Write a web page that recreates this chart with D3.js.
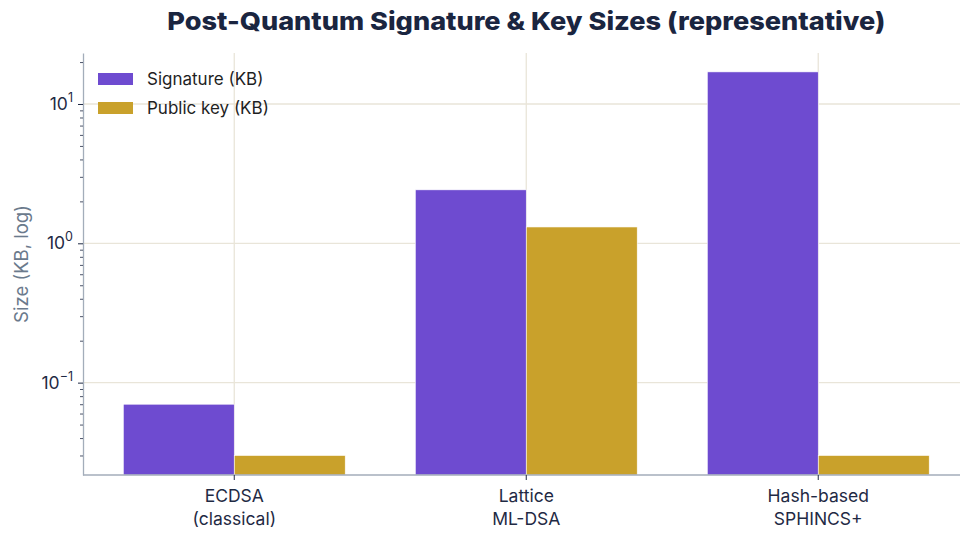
<!DOCTYPE html>
<html>
<head>
<meta charset="utf-8">
<script src="https://cdn.jsdelivr.net/npm/d3@7"></script>
<style>
  html, body { margin: 0; padding: 0; background: #ffffff; }
  svg { display: block; font-family: Inter, "Open Sans", sans-serif; }
</style>
</head>
<body>
<svg id="chart" width="960" height="534"></svg>
<script>
// Representative sizes in kilobytes
const schemes = ["ECDSA\n(classical)", "Lattice\nML-DSA", "Hash-based\nSPHINCS+"];
const signatureKB = [0.07, 2.42, 17.0];
const publicKeyKB = [0.03, 1.31, 0.03];
const seriesNames = ["Signature (KB)", "Public key (KB)"];
const seriesColors = ["#6e4bd0", "#c9a12b"];
const yTickValues = [0.1, 1, 10];
const yTickExponents = ["\u22121", "0", "1"];

const svg = d3.select("#chart");
const plotLeft = 83, plotRight = 969.5, plotTop = 53, plotBottom = 475;

// Categorical positions on a continuous axis (bar width 0.38 per series)
const barW = 0.38;
const x = d3.scaleLinear().domain([-0.518, 2.518]).range([plotLeft, plotRight]);
const y = d3.scaleLog().domain([Math.pow(10, -1.663), Math.pow(10, 1.366)]).range([plotBottom, plotTop]);

// Grid lines
const grid = svg.append("g");
grid.selectAll("line.h").data(yTickValues).join("line")
  .attr("x1", plotLeft).attr("x2", 960)
  .attr("y1", d => y(d)).attr("y2", d => y(d))
  .attr("stroke", "#e9e5d9").attr("stroke-width", 1.3);
grid.selectAll("line.v").data(schemes.map((d, i) => i)).join("line")
  .attr("x1", d => x(d)).attr("x2", d => x(d))
  .attr("y1", plotTop).attr("y2", plotBottom)
  .attr("stroke", "#e9e5d9").attr("stroke-width", 1.3);

// Bars
const series = [signatureKB, publicKeyKB];
series.forEach((vals, s) => {
  svg.append("g").selectAll("rect").data(vals).join("rect")
    .attr("x", (d, i) => x(i - barW + s * barW))
    .attr("width", x(barW) - x(0))
    .attr("y", d => y(d))
    .attr("height", d => plotBottom - y(d))
    .attr("fill", seriesColors[s])
    .attr("stroke", "#ffffff").attr("stroke-width", 0.6);
});

// Y axis with log minor ticks
const yAxis = d3.axisLeft(y)
  .tickValues(y.ticks())
  .tickFormat("")
  .tickSizeOuter(0);
const yg = svg.append("g").attr("transform", `translate(${plotLeft},0)`).call(yAxis);
yg.select(".domain").attr("stroke", "#a3adba").attr("stroke-width", 1.3);
yg.selectAll(".tick line")
  .attr("stroke", "#1f2a44")
  .attr("x2", d => yTickValues.includes(d) ? -5 : -3)
  .attr("stroke-width", d => yTickValues.includes(d) ? 1 : 0.8);

// Major y tick labels: 10 with superscript exponent
const yl = svg.append("g");
yTickValues.forEach((v, i) => {
  const t = yl.append("text")
    .attr("x", plotLeft - 10).attr("y", y(v) + 6)
    .attr("text-anchor", "end")
    .attr("fill", "#1f2a44").attr("font-size", 17.5);
  t.append("tspan").text("10");
  t.append("tspan").attr("dy", -8).attr("font-size", 12.5).text(yTickExponents[i]);
});

// X axis
const xg = svg.append("g").attr("transform", `translate(0,${plotBottom})`);
xg.append("line").attr("x1", plotLeft).attr("x2", 960).attr("y1", 0).attr("y2", 0)
  .attr("stroke", "#a3adba").attr("stroke-width", 1.3);
xg.selectAll("line.t").data(schemes.map((d, i) => i)).join("line")
  .attr("x1", d => x(d)).attr("x2", d => x(d)).attr("y1", 0).attr("y2", 5)
  .attr("stroke", "#1f2a44").attr("stroke-width", 1);
schemes.forEach((label, i) => {
  const t = xg.append("text")
    .attr("x", x(i)).attr("y", 27)
    .attr("text-anchor", "middle").attr("fill", "#1f2a44").attr("font-size", 17.5);
  label.split("\n").forEach((line, k) => {
    t.append("tspan").attr("x", x(i)).attr("dy", k === 0 ? 0 : 23).text(line);
  });
});

// Y axis title
svg.append("text")
  .attr("transform", `translate(28,${(plotTop + plotBottom) / 2}) rotate(-90)`)
  .attr("text-anchor", "middle")
  .attr("fill", "#6b7a8c").attr("font-size", 18.5)
  .text("Size (KB, log)");

// Title
svg.append("text")
  .attr("x", (plotLeft + plotRight) / 2).attr("y", 30)
  .attr("text-anchor", "middle")
  .attr("fill", "#1a2540").attr("font-size", 25).attr("font-weight", 800)
  .attr("textLength", 718).attr("lengthAdjust", "spacingAndGlyphs")
  .text("Post-Quantum Signature & Key Sizes (representative)");

// Legend
const lg = svg.append("g");
seriesNames.forEach((name, i) => {
  lg.append("rect").attr("x", 98).attr("y", 73 + i * 29).attr("width", 35).attr("height", 12)
    .attr("fill", seriesColors[i]);
  lg.append("text").attr("x", 147).attr("y", 85 + i * 29)
    .attr("fill", "#1f1f1f").attr("font-size", 17).text(name);
});
</script>
</body>
</html>
